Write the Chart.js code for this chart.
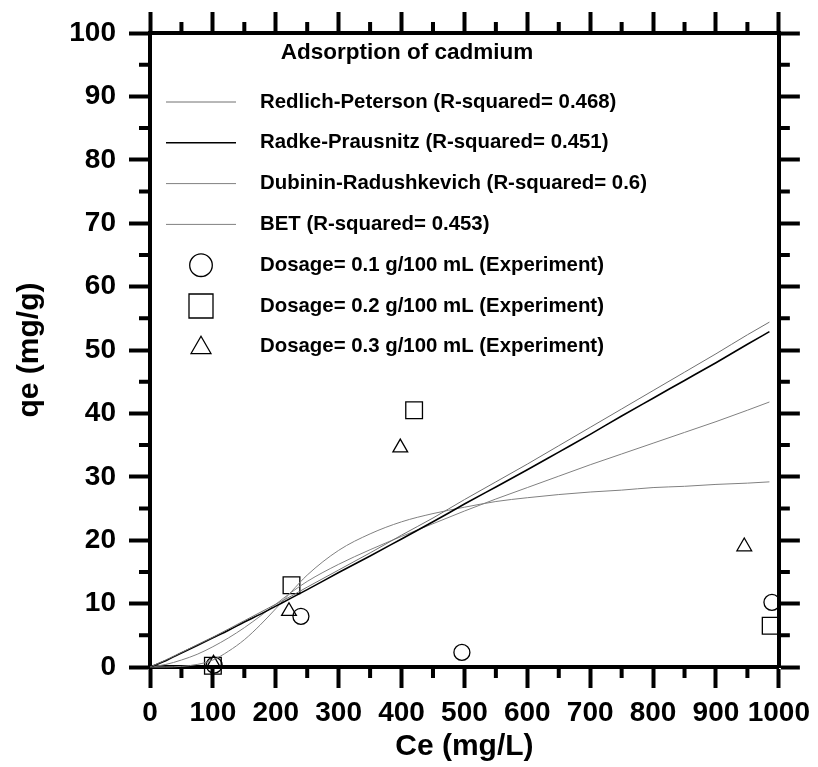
<!DOCTYPE html>
<html>
<head>
<meta charset="utf-8">
<title>Adsorption of cadmium</title>
<script src="https://cdn.jsdelivr.net/npm/chart.js"></script>
<style>
    html, body { margin: 0; padding: 0; background: #fff; }
    #wrap { position: relative; width: 818px; height: 767px; }
</style>
</head>
<body>
<div id="wrap"><canvas id="chart"></canvas></div>
<script>
// --- Data ---
const curveX = [0, 25, 50, 75, 100, 125, 150, 175, 200, 225, 250, 300, 350, 400, 450, 500, 550, 600, 650, 700, 750, 800, 850, 900, 950, 985];
const redlichPeterson = [0, 1.1, 2.3, 3.5, 4.7, 6.0, 7.3, 8.6, 9.9, 11.2, 12.6, 15.3, 18.0, 20.8, 23.5, 26.4, 29.2, 32.0, 34.9, 37.8, 40.7, 43.6, 46.5, 49.4, 52.4, 54.4];
const radkePrausnitz = [0, 1.0, 2.2, 3.4, 4.6, 5.8, 7.1, 8.3, 9.6, 10.9, 12.2, 14.9, 17.5, 20.2, 22.9, 25.7, 28.4, 31.1, 33.9, 36.7, 39.6, 42.4, 45.2, 48.0, 50.9, 52.9];
const dubininRadushkevich = [0, 0.0, 0.1, 0.4, 1.1, 2.5, 4.3, 6.6, 9.2, 11.9, 14.5, 18.4, 21.0, 22.9, 24.2, 25.2, 26.1, 26.7, 27.2, 27.6, 27.9, 28.3, 28.5, 28.8, 29.0, 29.2];
const bet = [0, 0.4, 1.1, 2.0, 3.2, 4.6, 6.2, 8.0, 9.9, 11.8, 13.5, 16.2, 18.5, 20.6, 22.6, 24.6, 26.5, 28.3, 30.1, 31.9, 33.6, 35.3, 37.0, 38.7, 40.5, 41.8];

const dose1X = [102, 240, 496, 989];
const dose1Y = [0.3, 8.0, 2.3, 10.2];
const dose2X = [100, 225, 420, 987];
const dose2Y = [0.2, 12.9, 40.5, 6.5];
const dose3X = [101, 221, 398, 945];
const dose3Y = [0.5, 8.8, 34.6, 19.0];

const seriesLabels = [
    'Redlich-Peterson (R-squared= 0.468)',
    'Radke-Prausnitz (R-squared= 0.451)',
    'Dubinin-Radushkevich (R-squared= 0.6)',
    'BET (R-squared= 0.453)',
    'Dosage= 0.1 g/100 mL (Experiment)',
    'Dosage= 0.2 g/100 mL (Experiment)',
    'Dosage= 0.3 g/100 mL (Experiment)'
];
const legendTitle = 'Adsorption of cadmium';
const xTitle = 'Ce (mg/L)';
const yTitle = 'qe (mg/g)';

const FONT = '"Liberation Sans", Arial, Helvetica, sans-serif';

const toPoints = (xs, ys) => xs.map((x, i) => ({ x: x, y: ys[i] }));

function curve(label, ys, color, width) {
    return {
        type: 'line',
        label: label,
        data: toPoints(curveX, ys),
        borderColor: color,
        borderWidth: width,
        pointRadius: 0,
        fill: false,
        cubicInterpolationMode: 'monotone',
        clip: false
    };
}

function markers(label, xs, ys, style, radius) {
    return {
        type: 'scatter',
        label: label,
        data: toPoints(xs, ys),
        showLine: false,
        pointStyle: style,
        pointRadius: radius,
        pointBorderColor: '#000',
        pointBackgroundColor: 'rgba(0,0,0,0)',
        pointBorderWidth: 1.3,
        clip: false
    };
}

// --- Minor ticks on all four axes ---
const minorTicks = {
    id: 'minorTicks',
    afterDraw(chart) {
        const { ctx, chartArea, scales } = chart;
        ctx.save();
        ctx.strokeStyle = '#000';
        ctx.lineWidth = 4;
        ctx.beginPath();
        for (let v = 50; v < 1000; v += 100) {
            const px = scales.x.getPixelForValue(v);
            ctx.moveTo(px, chartArea.bottom); ctx.lineTo(px, chartArea.bottom + 11);
            ctx.moveTo(px, chartArea.top); ctx.lineTo(px, chartArea.top - 11);
        }
        for (let v = 5; v < 100; v += 10) {
            const py = scales.y.getPixelForValue(v);
            ctx.moveTo(chartArea.left, py); ctx.lineTo(chartArea.left - 11, py);
            ctx.moveTo(chartArea.right, py); ctx.lineTo(chartArea.right + 11, py);
        }
        ctx.stroke();
        ctx.restore();
    }
};

// --- Legend drawn inside the plot ---
const insideLegend = {
    id: 'insideLegend',
    afterDraw(chart) {
        const ctx = chart.ctx;
        ctx.save();
        ctx.fillStyle = '#000';
        ctx.textBaseline = 'middle';
        ctx.textAlign = 'center';
        ctx.font = 'bold 22.5px ' + FONT;
        ctx.fillText(legendTitle, 407, 53);

        ctx.font = 'bold 20.4px ' + FONT;
        ctx.textAlign = 'left';
        chart.data.datasets.forEach((ds, i) => {
            const y = 102 + i * 40.8;
            const cx = 201;
            if (ds.type === 'line') {
                ctx.strokeStyle = ds.borderColor;
                ctx.lineWidth = ds.borderWidth;
                ctx.beginPath();
                ctx.moveTo(166, y);
                ctx.lineTo(236, y);
                ctx.stroke();
            } else {
                ctx.strokeStyle = '#000';
                ctx.lineWidth = 1.3;
                ctx.beginPath();
                if (ds.pointStyle === 'circle') {
                    ctx.arc(cx, y, 11.3, 0, Math.PI * 2);
                } else if (ds.pointStyle === 'rect') {
                    ctx.rect(cx - 12, y - 12, 24, 24);
                } else {
                    const r = 11.5;
                    const yc = y + 1;
                    ctx.moveTo(cx, yc - r);
                    ctx.lineTo(cx + r * 0.866, yc + r / 2);
                    ctx.lineTo(cx - r * 0.866, yc + r / 2);
                    ctx.closePath();
                }
                ctx.stroke();
            }
            ctx.fillText(ds.label, 260, y);
        });
        ctx.restore();
    }
};

const tickFont = { family: FONT, size: 28, weight: 'bold' };
const titleFont = { family: FONT, size: 30, weight: 'bold' };

function axis(position, size, showLabels, extra) {
    const horizontal = position === 'bottom' || position === 'top';
    const cfg = {
        type: 'linear',
        position: position,
        min: 0,
        max: horizontal ? 1000 : 100,
        border: { display: true, width: 4, color: '#000' },
        grid: { drawOnChartArea: false, drawTicks: true, tickLength: 21, tickWidth: 4, tickColor: '#000' },
        ticks: {
            stepSize: horizontal ? 100 : 10,
            autoSkip: false,
            maxRotation: 0,
            color: '#000',
            font: tickFont,
            padding: horizontal ? 8 : 13,
            callback: showLabels ? (v) => v : () => ''
        },
        afterFit(scale) {
            if (horizontal) scale.height = size; else scale.width = size;
        }
    };
    return Object.assign(cfg, extra || {});
}

const ctx = document.getElementById('chart').getContext('2d');
const chart = new Chart(ctx, {
    data: {
        datasets: [
            curve(seriesLabels[0], redlichPeterson, '#707070', 1),
            curve(seriesLabels[1], radkePrausnitz, '#000000', 1.6),
            curve(seriesLabels[2], dubininRadushkevich, '#808080', 1),
            curve(seriesLabels[3], bet, '#808080', 1),
            markers(seriesLabels[4], dose1X, dose1Y, 'circle', 8),
            markers(seriesLabels[5], dose2X, dose2Y, 'rect', 11.8),
            markers(seriesLabels[6], dose3X, dose3Y, 'triangle', 8.5)
        ]
    },
    options: {
        responsive: true,
        maintainAspectRatio: false,
        animation: false,
        layout: { padding: 0 },
        plugins: {
            legend: { display: false },
            tooltip: { enabled: false }
        },
        scales: {
            x: axis('bottom', 100, true, {
                title: { display: true, text: xTitle, color: '#000', font: titleFont, padding: { top: 0, bottom: 2 } }
            }),
            xTop: axis('top', 33, false),
            y: axis('left', 150, true, {
                title: { display: true, text: yTitle, color: '#000', font: titleFont, padding: { top: 12, bottom: 0 } }
            }),
            yRight: axis('right', 35, false)
        }
    },
    plugins: [minorTicks, insideLegend]
});
</script>
</body>
</html>
